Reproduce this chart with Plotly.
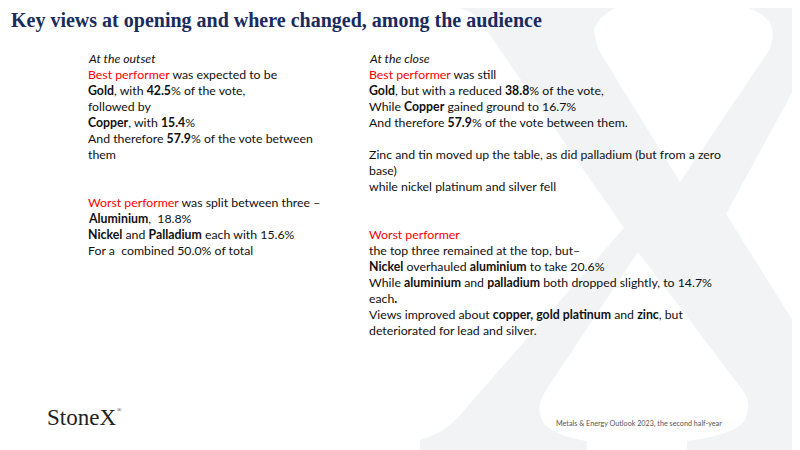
import plotly.graph_objects as go

W, H = 800, 450
# the page body adds an 8px margin; shift the axes so slide coords land right
OFF = 8

title_text = "Key views at opening and where changed, among the audience"

RED = "#ff0000"


def red(s):
    return f"<span style='color:{RED}'>{s}</span>"


# left column, one entry per text line ("" = blank line)
outset_lines = [
    "<i>At the outset</i>",
    red("Best performer") + " was expected to be",
    "<b>Gold</b>, with <b>42.5</b>% of the vote,",
    "followed by",
    "<b>Copper</b>, with <b>15.4</b>%",
    "And therefore <b>57.9</b>% of the vote between",
    "them",
    "",
    "",
    red("Worst performer") + " was split between three \u2013",
    "<b>Aluminium</b>,  18.8%",
    "<b>Nickel</b> and <b>Palladium</b> each with 15.6%",
    "For a  combined 50.0% of total",
]

# right column
close_lines = [
    "<i>At the close</i>",
    red("Best performer") + " was still",
    "<b>Gold</b>, but with a reduced <b>38.8</b>% of the vote,",
    "While <b>Copper</b> gained ground to 16.7%",
    "And therefore <b>57.9</b>% of the vote between them.",
    "",
    "Zinc and tin moved up the table, as did palladium (but from a zero",
    "base)",
    "while nickel platinum and silver fell",
    "",
    "",
    red("Worst performer"),
    "the top three remained at the top, but\u2013",
    "<b>Nickel</b> overhauled <b>aluminium</b> to take 20.6%",
    "While <b>aluminium</b> and <b>palladium</b> both dropped slightly, to 14.7%",
    "each<b>.</b>",
    "Views improved about <b>copper, gold platinum</b> and <b>zinc</b>, but",
    "deteriorated for lead and silver.",
]

footer_logo = "StoneX"
footer_note = "Metals & Energy Outlook 2023, the second half-year"

BODY_FONT = "Lato, 'Open Sans', sans-serif"
SERIF = "'Liberation Serif', serif"
LINE_H = 16
TOP_Y = 58

fig = go.Figure()

# light serif "X" watermark on the right side of the slide
X_PATH = (
    "M 430 0 L 643 0 Q 600 8 594 30 Q 596 50 606 62 L 680 182 "
    "L 768 52 Q 776 36 770 22 Q 755 6 720 0 L 800 0 L 800 78 "
    "L 726 214 L 800 332 L 800 450 L 687 450 L 687 441 "
    "Q 735 435 745 420 Q 752 405 744 392 L 638 252 "
    "L 545 392 Q 534 410 545 425 Q 560 437 587 441 L 587 450 "
    "L 420 450 L 420 440 Q 448 432 466 408 L 624 228 "
    "L 478 18 Q 468 6 430 4 Z"
)
fig.add_shape(type="path", path=X_PATH, xref="x", yref="y",
              fillcolor="#f2f3f5", line=dict(width=0), layer="below")


def label(x, y, text, font, size, color):
    return dict(x=x, y=y, text=text, showarrow=False,
                xanchor="left", yanchor="middle", borderpad=0,
                font=dict(family=font, size=size, color=color))


# title sits at the very left edge, so place it in paper coords
title_ann = label(0.002, 1 - (21 - OFF) / H, f"<b>{title_text}</b>",
                  SERIF, 20, "#1a2b5e")
title_ann.update(xref="paper", yref="paper")

annotations = [
    title_ann,
    label(46, 417, footer_logo, SERIF, 23, "#222222"),
    label(116, 410, "\u00ae", SERIF, 6, "#222222"),
    label(555, 423, footer_note, BODY_FONT, 7.2, "#555555"),
]

for x0, lines in [(87, outset_lines), (368, close_lines)]:
    for i, line in enumerate(lines):
        if not line:
            continue
        annotations.append(label(x0, TOP_Y + i * LINE_H, line,
                                 BODY_FONT, 12.3, "#111111"))

fig.update_layout(
    width=W, height=H,
    margin=dict(l=0, r=0, t=0, b=0),
    paper_bgcolor="white", plot_bgcolor="white",
    xaxis=dict(range=[OFF, W + OFF], visible=False, fixedrange=True),
    yaxis=dict(range=[H + OFF, OFF], visible=False, fixedrange=True),
    annotations=annotations,
    showlegend=False,
)

fig.write_html("out.html")
